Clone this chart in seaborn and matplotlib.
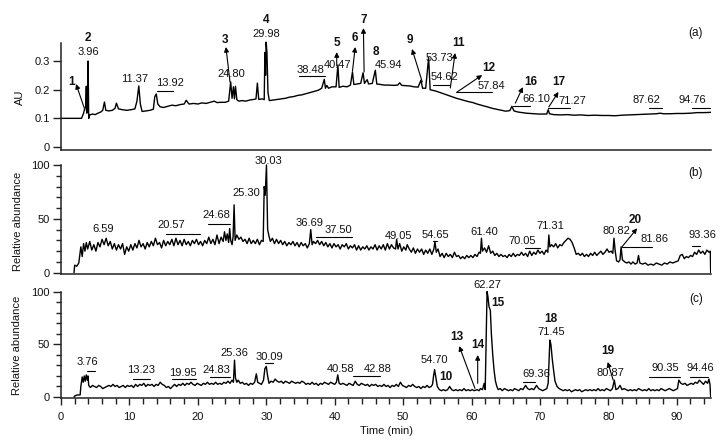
import matplotlib
matplotlib.use("Agg")
import matplotlib.pyplot as plt
from matplotlib.ticker import MultipleLocator, FixedLocator, FuncFormatter
import seaborn as sns

# ---------------- data ----------------
# (a) UV trace, AU
time_a = [0.0, 3.0, 3.1, 3.3, 3.45, 3.6, 3.7, 3.78, 3.88, 3.96,
          4.05, 4.2, 4.6, 5.0, 5.4, 5.8, 6.1, 6.35, 6.55, 7.0,
          7.5, 7.9, 8.1, 8.4, 9.0, 9.6, 10.2, 10.8, 11.1, 11.37,
          11.6, 11.85, 12.4, 13.0, 13.5, 13.7, 13.92, 14.15, 14.5, 15.0,
          15.6, 16.2, 16.8, 17.4, 18.0, 18.3, 18.7, 19.4, 20.0, 20.6,
          21.2, 21.8, 22.4, 22.8, 23.4, 24.0, 24.5, 24.8, 25.0, 25.2,
          25.35, 25.5, 25.7, 26.0, 26.5, 27.0, 27.6, 28.2, 28.5, 28.7,
          28.9, 29.4, 29.7, 29.8, 29.9, 29.98, 30.1, 30.25, 30.45, 31.0,
          31.6, 32.2, 32.8, 33.4, 34.0, 34.6, 35.2, 35.8, 36.4, 37.0,
          37.6, 38.1, 38.48, 38.65, 38.85, 39.1, 39.6, 40.2, 40.47, 40.65,
          41.2, 41.8, 42.3, 42.6, 42.8, 43.3, 43.8, 44.15, 44.35, 44.75,
          44.95, 45.5, 45.94, 46.15, 46.7, 47.3, 48.0, 48.6, 49.2, 49.5,
          49.8, 50.4, 51.0, 51.6, 52.2, 52.6, 52.85, 53.3, 53.73, 53.95,
          54.3, 54.8, 55.4, 56.0, 56.6, 57.2, 57.8, 58.4, 59.0, 59.6,
          60.2, 60.8, 61.4, 62.0, 62.6, 63.2, 63.8, 64.4, 65.0, 65.6,
          65.9, 66.2, 66.8, 67.4, 68.0, 68.6, 69.2, 69.8, 70.4, 71.0,
          71.2, 71.4, 72.0, 73.0, 74.0, 75.0, 76.0, 77.0, 78.0, 79.0,
          80.0, 81.0, 82.0, 83.0, 84.0, 85.0, 86.0, 87.0, 87.6, 88.0,
          89.0, 90.0, 91.0, 92.0, 93.0, 94.0, 95.0]
au_a = [0.100, 0.100, 0.106, 0.118, 0.132, 0.140, 0.212, 0.118, 0.135, 0.300,
        0.100, 0.112, 0.115, 0.113, 0.118, 0.122, 0.128, 0.157, 0.128, 0.126,
        0.128, 0.135, 0.153, 0.133, 0.130, 0.128, 0.130, 0.133, 0.160, 0.213,
        0.150, 0.124, 0.126, 0.128, 0.132, 0.175, 0.185, 0.150, 0.140, 0.138,
        0.142, 0.146, 0.144, 0.148, 0.150, 0.163, 0.150, 0.152, 0.150, 0.154,
        0.152, 0.156, 0.160, 0.155, 0.156, 0.156, 0.160, 0.227, 0.170, 0.210,
        0.168, 0.212, 0.165, 0.160, 0.162, 0.160, 0.164, 0.166, 0.168, 0.223,
        0.166, 0.168, 0.165, 0.330, 0.250, 0.366, 0.330, 0.190, 0.162, 0.164,
        0.166, 0.168, 0.170, 0.174, 0.176, 0.180, 0.182, 0.186, 0.190, 0.194,
        0.198, 0.205, 0.236, 0.205, 0.215, 0.205, 0.210, 0.210, 0.286, 0.208,
        0.212, 0.210, 0.216, 0.262, 0.218, 0.220, 0.222, 0.259, 0.222, 0.235,
        0.220, 0.222, 0.268, 0.220, 0.218, 0.216, 0.216, 0.215, 0.216, 0.224,
        0.215, 0.214, 0.213, 0.210, 0.209, 0.233, 0.205, 0.205, 0.312, 0.200,
        0.198, 0.195, 0.190, 0.185, 0.180, 0.175, 0.170, 0.166, 0.162, 0.158,
        0.155, 0.150, 0.146, 0.142, 0.138, 0.134, 0.131, 0.128, 0.125, 0.127,
        0.142, 0.126, 0.122, 0.120, 0.118, 0.117, 0.116, 0.115, 0.115, 0.115,
        0.130, 0.116, 0.113, 0.112, 0.113, 0.111, 0.112, 0.110, 0.111, 0.110,
        0.110, 0.109, 0.111, 0.112, 0.113, 0.114, 0.115, 0.116, 0.118, 0.116,
        0.116, 0.117, 0.117, 0.118, 0.120, 0.120, 0.121]

# (b) MS trace, relative abundance
time_b = [1.9, 2.0, 2.3, 2.6, 2.9, 3.1, 3.3, 3.5, 3.7, 3.9,
          4.2, 4.5, 4.8, 5.1, 5.4, 5.7, 6.0, 6.3, 6.6, 6.9,
          7.2, 7.5, 7.8, 8.1, 8.4, 8.7, 9.0, 9.3, 9.6, 9.9,
          10.2, 10.5, 10.8, 11.1, 11.4, 11.7, 12.0, 12.3, 12.6, 12.9,
          13.2, 13.5, 13.8, 14.1, 14.4, 14.7, 15.0, 15.3, 15.6, 15.9,
          16.2, 16.5, 16.8, 17.1, 17.4, 17.7, 18.0, 18.3, 18.6, 18.9,
          19.2, 19.5, 19.8, 20.1, 20.4, 20.7, 21.0, 21.3, 21.6, 21.9,
          22.2, 22.5, 22.8, 23.1, 23.4, 23.7, 23.9, 24.1, 24.3, 24.5,
          24.65, 24.8, 25.0, 25.15, 25.3, 25.45, 25.7, 26.0, 26.3, 26.6,
          26.9, 27.2, 27.5, 27.8, 28.1, 28.4, 28.7, 29.0, 29.3, 29.55,
          29.7, 29.85, 30.03, 30.2, 30.4, 30.6, 30.9, 31.2, 31.5, 31.8,
          32.1, 32.4, 32.7, 33.0, 33.3, 33.6, 33.9, 34.2, 34.5, 34.8,
          35.1, 35.4, 35.7, 36.0, 36.3, 36.5, 36.7, 36.9, 37.2, 37.5,
          37.8, 38.1, 38.4, 38.7, 39.0, 39.3, 39.6, 39.9, 40.2, 40.5,
          40.8, 41.1, 41.4, 41.7, 42.0, 42.3, 42.6, 42.9, 43.2, 43.5,
          43.8, 44.1, 44.4, 44.7, 45.0, 45.3, 45.6, 45.9, 46.2, 46.5,
          46.8, 47.1, 47.4, 47.7, 48.0, 48.3, 48.6, 48.9, 49.05, 49.25,
          49.5, 49.8, 50.1, 50.4, 50.6, 50.9, 51.2, 51.5, 51.8, 52.1,
          52.4, 52.7, 53.0, 53.3, 53.6, 53.9, 54.2, 54.5, 54.65, 54.85,
          55.1, 55.4, 55.7, 56.0, 56.3, 56.6, 56.9, 57.2, 57.5, 57.8,
          58.1, 58.4, 58.7, 59.0, 59.3, 59.6, 59.9, 60.2, 60.5, 60.8,
          61.1, 61.3, 61.45, 61.6, 61.9, 62.2, 62.5, 62.8, 63.1, 63.4,
          63.7, 64.0, 64.3, 64.6, 64.9, 65.2, 65.5, 65.8, 66.1, 66.4,
          66.7, 67.0, 67.3, 67.6, 67.9, 68.2, 68.5, 68.8, 69.1, 69.4,
          69.7, 70.0, 70.3, 70.6, 70.9, 71.15, 71.3, 71.45, 71.7, 72.0,
          72.3, 72.6, 72.9, 73.2, 73.5, 73.8, 74.1, 74.4, 74.7, 75.0,
          75.3, 75.6, 75.9, 76.2, 76.5, 76.8, 77.1, 77.4, 77.7, 78.0,
          78.3, 78.6, 78.9, 79.2, 79.5, 79.8, 80.1, 80.4, 80.65, 80.82,
          81.0, 81.2, 81.5, 81.7, 81.86, 82.05, 82.4, 82.7, 83.0, 83.3,
          83.6, 83.9, 84.2, 84.4, 84.6, 85.0, 85.4, 85.8, 86.2, 86.6,
          87.0, 87.4, 87.8, 88.2, 88.6, 89.0, 89.4, 89.8, 90.2, 90.5,
          90.8, 91.1, 91.4, 91.7, 92.0, 92.3, 92.6, 92.9, 93.2, 93.5,
          93.8, 94.1, 94.4, 94.7, 94.9, 94.95]
abund_b = [0, 7, 6, 9, 24, 15, 27, 20, 28, 22,
           29, 21, 26, 20, 28, 24, 31, 26, 32, 25,
           29, 22, 27, 21, 26, 22, 27, 17, 24, 20,
           26, 21, 27, 23, 30, 24, 27, 22, 28, 24,
           29, 25, 32, 26, 28, 23, 30, 25, 29, 26,
           31, 25, 32, 26, 30, 25, 31, 26, 29, 25,
           30, 27, 31, 26, 29, 25, 30, 27, 33, 27,
           31, 26, 35, 27, 33, 29, 38, 30, 36, 28,
           41, 30, 26, 33, 63, 30, 35, 31, 33, 29,
           31, 27, 32, 27, 30, 27, 31, 26, 30, 29,
           80, 72, 100, 40, 34, 29, 32, 27, 31, 27,
           30, 26, 29, 25, 28, 26, 29, 25, 28, 24,
           28, 25, 27, 23, 27, 40, 26, 29, 27, 30,
           26, 29, 25, 28, 24, 27, 23, 27, 24, 26,
           22, 26, 24, 27, 22, 25, 23, 26, 21, 25,
           21, 24, 22, 25, 21, 24, 22, 26, 21, 25,
           22, 26, 21, 27, 22, 26, 23, 22, 31, 22,
           27, 20, 24, 21, 26, 22, 19, 23, 18, 22,
           19, 22, 17, 21, 18, 22, 17, 22, 29, 19,
           22, 15, 18, 14, 18, 15, 17, 14, 19, 15,
           16, 13, 15, 13, 16, 14, 16, 14, 17, 15,
           19, 18, 32, 20, 23, 19, 25, 18, 20, 16,
           18, 15, 17, 15, 16, 14, 17, 15, 18, 15,
           17, 16, 19, 16, 18, 15, 20, 16, 19, 17,
           21, 18, 20, 17, 21, 19, 35, 24, 26, 24,
           27, 23, 26, 25, 28, 30, 32, 31, 28, 23,
           17, 18, 16, 18, 15, 17, 15, 18, 16, 19,
           16, 18, 20, 17, 19, 22, 19, 20, 18, 32,
           20, 11, 10, 12, 24, 12, 10, 9, 10, 8,
           10, 8, 9, 16, 9, 8, 9, 7, 8, 7,
           9, 8, 7, 9, 8, 10, 9, 10, 11, 16,
           17, 13, 15, 14, 16, 15, 19, 17, 21, 18,
           20, 17, 21, 19, 20, 0]

# (c) MS trace, relative abundance
time_c = [1.9, 2.0, 2.4, 2.8, 2.9, 3.1, 3.25, 3.4, 3.55, 3.7,
          3.85, 3.95, 4.05, 4.3, 4.6, 4.9, 5.2, 5.5, 5.8, 6.1,
          6.4, 6.7, 7.0, 7.3, 7.6, 7.9, 8.2, 8.5, 8.8, 9.1,
          9.4, 9.7, 10.0, 10.3, 10.6, 10.9, 11.2, 11.5, 11.8, 12.1,
          12.4, 12.7, 13.0, 13.3, 13.6, 13.9, 14.2, 14.5, 14.8, 15.1,
          15.4, 15.7, 16.0, 16.3, 16.6, 16.9, 17.2, 17.5, 17.8, 18.1,
          18.4, 18.7, 19.0, 19.3, 19.6, 19.9, 20.2, 20.5, 20.8, 21.1,
          21.4, 21.7, 22.0, 22.3, 22.6, 22.9, 23.2, 23.5, 23.8, 24.1,
          24.4, 24.7, 25.0, 25.2, 25.36, 25.5, 25.7, 25.9, 26.2, 26.5,
          26.8, 27.1, 27.4, 27.7, 28.0, 28.3, 28.55, 28.75, 29.0, 29.3,
          29.6, 29.8, 30.0, 30.2, 30.4, 30.7, 31.0, 31.3, 31.6, 31.9,
          32.2, 32.5, 32.8, 33.1, 33.4, 33.7, 34.0, 34.3, 34.6, 34.9,
          35.2, 35.5, 35.8, 36.1, 36.4, 36.7, 37.0, 37.3, 37.6, 37.9,
          38.2, 38.5, 38.8, 39.1, 39.4, 39.7, 40.0, 40.25, 40.45, 40.65,
          40.9, 41.2, 41.5, 41.8, 42.1, 42.4, 42.7, 43.0, 43.3, 43.6,
          43.9, 44.2, 44.5, 44.8, 45.1, 45.4, 45.7, 46.0, 46.3, 46.6,
          46.9, 47.2, 47.5, 47.8, 48.1, 48.4, 48.7, 49.0, 49.3, 49.6,
          49.9, 50.2, 50.5, 50.8, 51.1, 51.4, 51.7, 52.0, 52.3, 52.6,
          52.9, 53.2, 53.5, 53.8, 54.1, 54.3, 54.45, 54.6, 54.8, 55.0,
          55.3, 55.6, 55.9, 56.2, 56.5, 56.8, 57.1, 57.4, 57.7, 58.0,
          58.3, 58.6, 58.9, 59.2, 59.5, 59.8, 60.1, 60.4, 60.8, 61.1,
          61.3, 61.6, 61.85, 62.0, 62.1, 62.2, 62.27, 62.4, 62.55, 62.75,
          62.9, 63.1, 63.3, 63.5, 63.7, 63.9, 64.2, 64.5, 64.8, 65.1,
          65.4, 65.7, 66.0, 66.3, 66.6, 66.9, 67.2, 67.5, 67.9, 68.2,
          68.5, 68.8, 69.1, 69.5, 69.8, 70.1, 70.4, 70.7, 71.0, 71.2,
          71.45, 71.6, 71.8, 72.0, 72.2, 72.5, 72.8, 73.1, 73.4, 73.7,
          74.0, 74.3, 74.6, 74.9, 75.2, 75.5, 75.8, 76.1, 76.4, 76.7,
          77.0, 77.3, 77.6, 77.9, 78.2, 78.5, 78.8, 79.1, 79.4, 79.7,
          80.0, 80.3, 80.6, 80.87, 81.1, 81.4, 81.7, 82.0, 82.3, 82.6,
          82.9, 83.2, 83.5, 83.8, 84.1, 84.4, 84.7, 85.0, 85.3, 85.6,
          85.9, 86.2, 86.5, 86.8, 87.1, 87.4, 87.7, 88.0, 88.3, 88.6,
          88.9, 89.2, 89.5, 89.8, 90.1, 90.3, 90.6, 90.9, 91.2, 91.5,
          91.8, 92.1, 92.4, 92.7, 93.0, 93.3, 93.6, 93.9, 94.2, 94.5,
          94.7, 94.85, 94.95]
abund_c = [0, 1, 2, 2, 10, 19, 14, 20, 15, 21,
           16, 20, 11, 9, 11, 10, 9, 11, 10, 8,
           9, 10, 11, 10, 12, 10, 11, 9, 10, 11,
           9, 11, 10, 11, 9, 12, 10, 12, 11, 13,
           10, 12, 11, 12, 10, 12, 11, 14, 12, 11,
           9, 10, 8, 10, 12, 10, 12, 11, 13, 11,
           13, 12, 14, 12, 11, 13, 12, 11, 13, 12,
           14, 12, 13, 12, 14, 12, 13, 12, 14, 13,
           15, 13, 16, 14, 35, 18, 14, 16, 13, 14,
           12, 13, 11, 13, 12, 14, 22, 14, 13, 12,
           16, 27, 29, 20, 13, 15, 14, 17, 15, 14,
           15, 13, 15, 14, 13, 15, 14, 13, 14, 13,
           15, 14, 12, 13, 12, 14, 12, 13, 11, 13,
           12, 14, 13, 12, 14, 13, 12, 14, 21, 13,
           12, 13, 12, 11, 13, 12, 11, 15, 12, 11,
           13, 12, 11, 12, 10, 12, 11, 12, 10, 11,
           10, 12, 10, 11, 9, 11, 10, 12, 10, 14,
           11, 10, 9, 11, 10, 12, 10, 9, 10, 8,
           10, 9, 11, 9, 10, 12, 20, 26, 18, 10,
           7, 6, 7, 6, 7, 10, 7, 6, 7, 6,
           7, 6, 8, 6, 7, 6, 7, 6, 7, 6,
           8, 7, 13, 7, 40, 75, 100, 95, 86, 82,
           60, 40, 25, 15, 10, 7, 8, 6, 8, 7,
           6, 7, 6, 8, 7, 6, 8, 7, 11, 8,
           7, 8, 7, 11, 8, 7, 6, 7, 8, 13,
           54, 50, 36, 25, 15, 10, 8, 7, 6, 7,
           6, 7, 5, 6, 7, 6, 7, 5, 6, 7,
           6, 7, 6, 7, 6, 8, 6, 7, 6, 8,
           7, 6, 8, 16, 7, 8, 11, 7, 8, 7,
           6, 7, 6, 7, 6, 8, 7, 6, 7, 6,
           8, 6, 7, 6, 7, 6, 8, 7, 6, 7,
           8, 7, 6, 7, 8, 16, 13, 12, 13, 11,
           12, 13, 12, 14, 13, 16, 14, 12, 15, 13,
           17, 12, 0]

# ---------------- annotations: (text, time, value, bold) ----------------
labels_a = [("1", 1.56, 0.228, True), ("2", 4.0, 0.379, True), ("3.96", 4.0, 0.33, False),
            ("11.37", 10.8, 0.236, False), ("13.92", 15.9, 0.222, False),
            ("3", 24.0, 0.373, True), ("24.80", 24.85, 0.255, False),
            ("4", 29.97, 0.443, True), ("29.98", 29.97, 0.394, False),
            ("38.48", 36.4, 0.269, False), ("5", 40.3, 0.364, True), ("40.47", 40.4, 0.286, False),
            ("6", 43.0, 0.379, True), ("7", 44.2, 0.443, True), ("8", 46.05, 0.332, True),
            ("45.94", 47.8, 0.286, False), ("9", 51.0, 0.373, True), ("53.73", 55.3, 0.309, False),
            ("11", 58.1, 0.362, True), ("54.62", 56.1, 0.245, False), ("12", 62.5, 0.274, True),
            ("57.84", 62.9, 0.213, False), ("16", 68.6, 0.228, True), ("66.10", 69.4, 0.167, False),
            ("17", 72.8, 0.228, True), ("71.27", 74.7, 0.16, False), ("87.62", 85.6, 0.164, False),
            ("94.76", 92.25, 0.164, False)]
lines_a = [(14.0, 16.4, 0.195), (34.8, 38.6, 0.248), (54.4, 56.9, 0.216), (57.7, 63.0, 0.191),
           (66.1, 68.6, 0.144), (71.2, 74.4, 0.137), (85.9, 87.8, 0.135), (92.2, 94.9, 0.135)]
arrows_a = [(3.5, 0.129, 2.2, 0.22), (24.7, 0.227, 24.1, 0.349), (40.3, 0.283, 40.3, 0.331),
            (42.6, 0.265, 43.0, 0.349), (44.3, 0.262, 44.2, 0.415), (52.8, 0.227, 51.3, 0.342),
            (56.9, 0.206, 57.6, 0.328), (57.9, 0.192, 61.55, 0.251), (66.4, 0.153, 67.5, 0.209),
            (71.3, 0.14, 72.7, 0.192)]

labels_b = [("6.59", 6.2, 40.3, False), ("20.57", 16.05, 44.3, False), ("24.68", 22.66, 53.6, False),
            ("25.30", 27.05, 73.7, False), ("30.03", 30.26, 104, False), ("36.69", 36.26, 46.4, False),
            ("37.50", 40.5, 39.6, False), ("49.05", 49.37, 34.1, False), ("54.65", 54.75, 35, False),
            ("61.40", 61.84, 38.1, False), ("70.05", 67.35, 29.7, False), ("71.31", 71.5, 43.4, False),
            ("80.82", 81.24, 38.7, False), ("20", 83.9, 48.9, True), ("81.86", 86.7, 31, False),
            ("93.36", 93.7, 35, False)]
lines_b = [(15.35, 20.3, 35.9), (21.5, 24.7, 45.2), (37.3, 42.5, 32.9), (54.3, 54.9, 29.7),
           (67.8, 70.0, 22.7), (82.0, 86.4, 24.1), (92.2, 93.4, 25.1)]
arrows_b = [(82.0, 24.1, 84.2, 41.2)]

labels_c = [("3.76", 3.8, 33.5, False), ("13.23", 11.7, 25.6, False), ("19.95", 17.8, 22.5, False),
            ("24.83", 22.7, 25.6, False), ("25.36", 25.3, 41.4, False), ("30.09", 30.4, 37.6, False),
            ("40.58", 40.9, 26.3, False), ("42.88", 46.3, 26.3, False), ("54.70", 54.6, 35.1, False),
            ("10", 56.3, 19.2, True), ("13", 57.85, 57.2, True), ("14", 60.9, 49.3, True),
            ("62.27", 62.35, 106, False), ("15", 63.9, 88.8, True), ("69.36", 69.4, 21.8, False),
            ("18", 71.6, 73.6, True), ("71.45", 71.6, 61.9, False), ("19", 79.9, 43.6, True),
            ("80.87", 80.3, 22.5, False), ("90.35", 88.3, 27.2, False), ("94.46", 93.5, 27.2, False)]
lines_c = [(3.76, 4.97, 24.6), (10.5, 13.0, 16.8), (16.2, 19.8, 16.8), (21.8, 24.7, 19.2),
           (29.8, 31.0, 31.9), (42.7, 46.6, 19.9), (67.5, 69.3, 13.9), (85.9, 90.4, 18.7),
           (92.0, 94.6, 18.7)]
arrows_c = [(60.5, 8.2, 58.2, 48.3), (60.9, 13, 60.9, 39.8), (80.7, 16.1, 79.9, 33.2)]

# ---------------- figure ----------------
sns.set_style("ticks")
plt.rcParams["font.family"] = ["Liberation Sans", "DejaVu Sans"]
plt.rcParams["font.size"] = 8
plt.rcParams["text.color"] = "#111111"
plt.rcParams["axes.labelcolor"] = "#111111"
plt.rcParams["xtick.labelcolor"] = "#111111"
plt.rcParams["ytick.labelcolor"] = "#111111"

fig = plt.figure(figsize=(7.27, 4.47), dpi=100)
ax1 = fig.add_axes([0.0839, 0.6644, 0.8941, 0.3132])
ax2 = fig.add_axes([0.0839, 0.3877, 0.8941, 0.2767])
ax3 = fig.add_axes([0.0839, 0.1089, 0.8941, 0.2787])

panels = [
    (ax1, time_a, au_a, (-0.0105, 0.478), 0.363, labels_a, lines_a, arrows_a, "(a)", 0.397),
    (ax2, time_b, abund_b, (-0.93, 113.9), 100, labels_b, lines_b, arrows_b, "(b)", 92.3),
    (ax3, time_c, abund_c, (-1.23, 116.9), 100, labels_c, lines_c, arrows_c, "(c)", 92.6),
]

for ax, t, v, ylim, ytop, labs, ulines, arrs, tag, tag_y in panels:
    sns.lineplot(x=t, y=v, ax=ax, color="black", lw=1.0, estimator=None, sort=False)
    ax.set_xlim(0, 95)
    ax.set_ylim(*ylim)
    ax.set_facecolor("none")
    for side in ["top", "right"]:
        ax.spines[side].set_visible(False)
    ax.spines["left"].set_bounds(ylim[0], ytop)
    for side in ["left", "bottom"]:
        ax.spines[side].set_linewidth(1.1)
        ax.spines[side].set_color("#222222")
    ax.tick_params(axis="y", which="major", length=6, width=1, pad=2, labelsize=8, color="#222222")
    ax.tick_params(axis="y", which="minor", length=3.5, width=1, color="#222222")

    for txt, tx, ty, bold in labs:
        ax.text(tx, ty, txt, ha="center", va="center",
                fontsize=8.5 if bold else 8,
                fontweight="bold" if bold else "normal")
    for x1, x2, yy in ulines:
        ax.plot([x1, x2], [yy, yy], color="black", lw=0.8)
    for tx, ty, hx, hy in arrs:
        ax.annotate("", xy=(hx, hy), xytext=(tx, ty),
                    arrowprops=dict(arrowstyle="-|>", color="black", lw=0.8,
                                    shrinkA=0, shrinkB=0, mutation_scale=7))
    ax.text(92.8, tag_y, tag, ha="center", va="center", fontsize=8.5)

# y axes
ax1.yaxis.set_major_locator(FixedLocator([0, 0.1, 0.2, 0.3]))
ax1.yaxis.set_major_formatter(FuncFormatter(lambda y, _: "0" if y == 0 else f"{y:.1f}"))
for ax in (ax2, ax3):
    ax.yaxis.set_major_locator(FixedLocator([0, 50, 100]))
    ax.yaxis.set_minor_locator(FixedLocator([10, 20, 30, 40, 60, 70, 80, 90]))

ax1.set_ylabel("AU", fontsize=8)
ax1.yaxis.set_label_coords(-0.055, 0.379)
ax2.set_ylabel("Relative abundance", fontsize=8)
ax2.yaxis.set_label_coords(-0.058, 0.426)
ax3.set_ylabel("Relative abundance", fontsize=8)
ax3.yaxis.set_label_coords(-0.06, 0.421)

# x axes
for ax in (ax1, ax2):
    ax.tick_params(axis="x", which="both", bottom=False, labelbottom=False)
    ax.set_xlabel("")
ax3.xaxis.set_major_locator(MultipleLocator(10))
ax3.xaxis.set_minor_locator(MultipleLocator(2))
ax3.tick_params(axis="x", which="major", length=5, width=1, pad=5, labelsize=8, color="#222222")
ax3.tick_params(axis="x", which="minor", length=4, width=1, color="#222222")
ax3.set_xlabel("Time (min)", fontsize=8)
ax3.xaxis.set_label_coords(0.5, -0.225)

fig.savefig("out.png", dpi=100)
